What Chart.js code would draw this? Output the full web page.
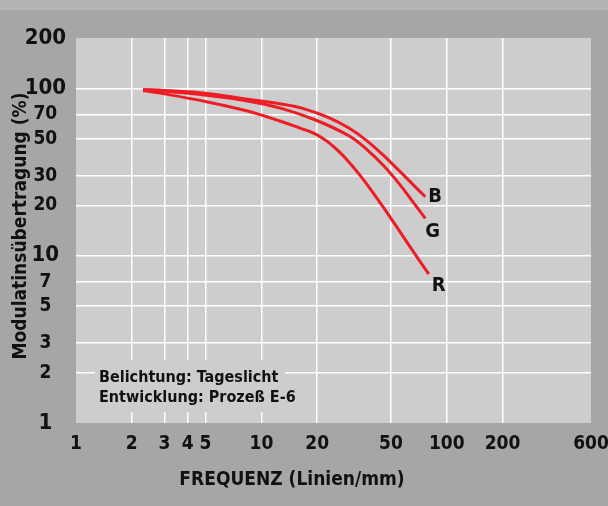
<!DOCTYPE html>
<html>
<head>
<meta charset="utf-8">
<script src="https://cdn.jsdelivr.net/npm/chart.js@4.4.0/dist/chart.umd.min.js"></script>
<style>
    html, body { margin: 0; padding: 0; background: #a6a6a6; }
    #wrap { width: 608px; height: 506px; }
</style>
</head>
<body>
<div id="wrap"><canvas id="mtf-chart" width="608" height="506"></canvas></div>
<script>
// tick values on both log axes
const xTicks = [1, 2, 3, 4, 5, 10, 20, 50, 100, 200, 600];
const yTicks = [1, 2, 3, 5, 7, 10, 20, 30, 50, 70, 100, 200];
const yMajor = [1, 10, 100, 200];

// curves (frequency in lines/mm, modulation in %)
const freqB = [2.3, 3, 5, 8.4, 12.8, 17.2, 23.1, 29.8, 36.7, 45.3, 56, 66, 76.6];
const mtfB  = [98.5, 97, 93.5, 86, 80.6, 75.2, 66.8, 57.7, 49.1, 40, 31.8, 26.5, 22.5];
const freqG = [2.3, 3, 5, 8.4, 12.8, 19.6, 29.8, 36.7, 45.3, 56, 66, 76.6];
const mtfG  = [98, 96, 91, 84, 75.9, 64.7, 51.9, 43.5, 34.8, 26.5, 20.8, 16.7];
const freqR = [2.3, 3, 5, 8.4, 12.8, 15.9, 19.6, 23.1, 25.2, 28.6, 34.5, 41.7, 51.4, 64.8, 80];
const mtfR  = [97, 92.7, 83.4, 73.2, 63.4, 58.2, 53.3, 47.4, 43.6, 38, 29.7, 22.3, 16, 10.9, 7.75];

const seriesNames = ['B', 'G', 'R'];
const noteLines = ['Belichtung: Tageslicht', 'Entwicklung: Prozeß E-6'];

const FONT = "'Liberation Sans Narrow', 'DejaVu Sans Condensed', 'Arial Narrow', sans-serif";
const RED = '#ee1c25';

function toPoints(xs, ys) {
    return xs.map((x, i) => ({ x: x, y: ys[i] }));
}

// backgrounds, note box, axis titles and curve labels
const decorPlugin = {
    id: 'decor',
    beforeDraw(chart) {
        const ctx = chart.ctx;
        const a = chart.chartArea;
        ctx.save();
        ctx.fillStyle = '#a6a6a6';
        ctx.fillRect(0, 0, chart.width, chart.height);
        ctx.fillStyle = '#b3b4b6';
        ctx.fillRect(0, 0, chart.width, 10);
        ctx.fillStyle = '#cdcdcd';
        ctx.fillRect(a.left, a.top, a.right - a.left, a.bottom - a.top);
        ctx.restore();
    },
    beforeDatasetsDraw(chart) {
        const ctx = chart.ctx;
        ctx.save();
        // the note hides the grid behind it
        ctx.fillStyle = '#cdcdcd';
        ctx.fillRect(95, 360, 190, 52);
        ctx.fillStyle = '#111';
        ctx.font = 'bold 16px ' + FONT;
        ctx.textAlign = 'left';
        ctx.textBaseline = 'alphabetic';
        ctx.fillText(noteLines[0], 99, 382);
        ctx.fillText(noteLines[1], 99, 402);

        // axis titles
        ctx.font = 'bold 19px ' + FONT;
        ctx.textAlign = 'center';
        ctx.textBaseline = 'middle';
        ctx.fillText('FREQUENZ (Linien/mm)', 292, 480);
        ctx.translate(21, 226);
        ctx.rotate(-Math.PI / 2);
        ctx.fillText('Modulatinsübertragung (%)', 0, 0);
        ctx.restore();
    },
    afterDatasetsDraw(chart) {
        const ctx = chart.ctx;
        const offsets = [[3, 0], [0, 13], [3, 12]];
        ctx.save();
        ctx.fillStyle = '#111';
        ctx.font = 'bold 20px ' + FONT;
        ctx.textAlign = 'left';
        ctx.textBaseline = 'middle';
        chart.data.datasets.forEach((ds, i) => {
            const meta = chart.getDatasetMeta(i);
            const last = meta.data[meta.data.length - 1];
            ctx.fillText(seriesNames[i], last.x + offsets[i][0], last.y + offsets[i][1]);
        });
        ctx.restore();
    }
};

function lineSet(label, xs, ys) {
    return {
        label: label,
        data: toPoints(xs, ys),
        showLine: true,
        borderColor: RED,
        backgroundColor: RED,
        borderWidth: 3,
        pointRadius: 0,
        tension: 0.4,
        fill: false
    };
}

const ctx = document.getElementById('mtf-chart').getContext('2d');
const myChart = new Chart(ctx, {
    type: 'scatter',
    data: {
        datasets: [
            lineSet('B', freqB, mtfB),
            lineSet('G', freqG, mtfG),
            lineSet('R', freqR, mtfR)
        ]
    },
    options: {
        responsive: false,
        animation: false,
        layout: { padding: { top: 38, right: 17, left: 0, bottom: 0 } },
        plugins: {
            legend: { display: false },
            tooltip: { enabled: false }
        },
        scales: {
            x: {
                type: 'logarithmic',
                min: 1,
                max: 600,
                afterBuildTicks: function (scale) {
                    scale.ticks = xTicks.map(v => ({ value: v }));
                },
                afterFit: function (scale) {
                    scale.height = 83;
                    // labels at the ends may hang over, don't shrink the plot
                    scale.paddingLeft = 0;
                    scale.paddingRight = 0;
                },
                border: { display: false },
                grid: {
                    drawTicks: false,
                    lineWidth: 1.5,
                    color: c => (c.tick && (c.tick.value === 1 || c.tick.value === 600)) ? 'rgba(0,0,0,0)' : '#ffffff'
                },
                ticks: {
                    autoSkip: false,
                    maxRotation: 0,
                    padding: 10,
                    color: '#111',
                    font: { family: FONT, size: 19, weight: 'bold' },
                    callback: value => String(value)
                }
            },
            y: {
                type: 'logarithmic',
                min: 1,
                max: 200,
                afterBuildTicks: function (scale) {
                    scale.ticks = yTicks.map(v => ({ value: v }));
                },
                afterFit: function (scale) {
                    scale.width = 76;
                    scale.paddingTop = 0;
                    scale.paddingBottom = 0;
                },
                border: { display: false },
                grid: {
                    drawTicks: false,
                    lineWidth: 1.5,
                    color: c => (c.tick && (c.tick.value === 1 || c.tick.value === 200)) ? 'rgba(0,0,0,0)' : '#ffffff'
                },
                ticks: {
                    autoSkip: false,
                    crossAlign: 'center',
                    padding: 10,
                    color: '#111',
                    font: c => ({
                        family: FONT,
                        size: (c.tick && yMajor.includes(c.tick.value)) ? 22 : 19,
                        weight: 'bold'
                    }),
                    callback: value => String(value)
                }
            }
        }
    },
    plugins: [decorPlugin]
});
</script>
</body>
</html>
